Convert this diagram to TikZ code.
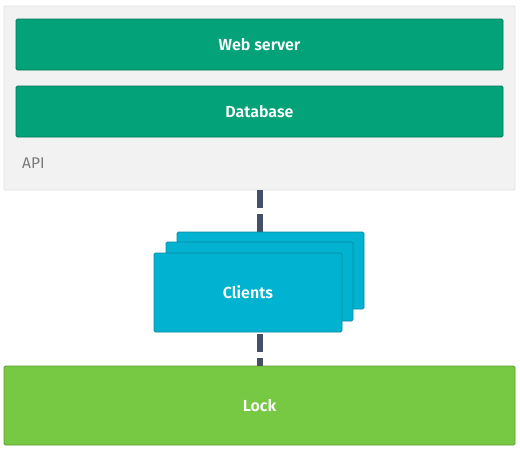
\documentclass[tikz,border=0pt]{standalone}
\usepackage{fontspec}
\setmainfont{Fira Sans}
\newfontfamily\semib{Fira Sans SemiBold}
\definecolor{apibg}{HTML}{F2F2F2}
\definecolor{apiborder}{HTML}{E2E2E2}
\definecolor{green1}{HTML}{03A278}
\definecolor{green1d}{HTML}{027A5A}
\definecolor{cyan1}{HTML}{02B2D1}
\definecolor{cyan1d}{HTML}{0A8AA0}
\definecolor{lime}{HTML}{77C943}
\definecolor{limed}{HTML}{5A9E30}
\definecolor{dashc}{HTML}{455066}
\definecolor{apitext}{HTML}{7A7A7A}
\begin{document}
\begin{tikzpicture}[x=1pt,y=-1pt,
  box/.style={draw, line width=0.8pt, rounded corners=1.5pt, inner sep=0pt, font=\semib\fontsize{16}{19}\selectfont, text=white},
  greenbox/.style={box, fill=green1, draw=green1d},
  clientbox/.style={box, fill=cyan1, draw=cyan1d},
  link/.style={draw=dashc, line width=6pt, dash pattern=on 18pt off 6pt}]
\useasboundingbox (0,0) rectangle (520,450);
\node[draw=apiborder, fill=apibg, line width=0.8pt, rounded corners=1pt, minimum width=511pt, minimum height=184pt, inner sep=0pt] (api) at (259.5,98) {};
\node[greenbox, minimum width=487pt, minimum height=51pt] (web) at (259.5,44.5) {Web server};
\node[greenbox, minimum width=487pt, minimum height=51pt] (db) at (259.5,111.5) {Database};
\node[anchor=base west, text=apitext, font=\fontsize{15.5}{18}\selectfont, inner sep=0pt] (apilabel) at (22,168) {API};
\node[box, fill=lime, draw=limed, minimum width=511pt, minimum height=79pt] (lock) at (259.5,405.5) {Lock};
\draw[link] (api.south) -- (lock.north);
\node[clientbox, minimum width=187pt, minimum height=77pt] (c3) at (270.5,270.5) {};
\node[clientbox, minimum width=187pt, minimum height=79pt] (c2) at (259.5,281.5) {};
\node[clientbox, minimum width=188pt, minimum height=79pt] (c1) at (248,292.5) {Clients};
\end{tikzpicture}
\end{document}
